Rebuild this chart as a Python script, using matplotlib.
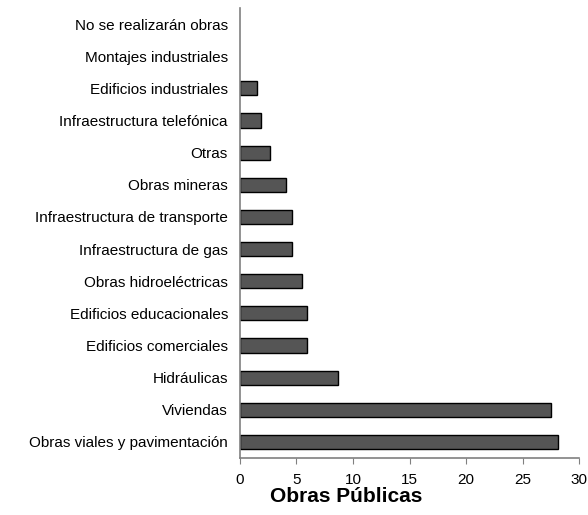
import matplotlib.pyplot as plt

plt.rcParams['font.family'] = ['Liberation Sans', 'DejaVu Sans']

# categories from bottom to top
categorias = [
    'Obras viales y pavimentación',
    'Viviendas',
    'Hidráulicas',
    'Edificios comerciales',
    'Edificios educacionales',
    'Obras hidroeléctricas',
    'Infraestructura de gas',
    'Infraestructura de transporte',
    'Obras mineras',
    'Otras',
    'Infraestructura telefónica',
    'Edificios industriales',
    'Montajes industriales',
    'No se realizarán obras',
]
valores = [28.1, 27.5, 8.7, 5.9, 5.9, 5.5, 4.6, 4.6, 4.1, 2.65, 1.9, 1.5, 0, 0]
xticks = [0, 5, 10, 15, 20, 25, 30]

fig = plt.figure(figsize=(5.88, 5.15), dpi=100)
ax = fig.add_axes([0.408, 0.1107, 0.577, 0.8738])

pos = list(range(len(categorias)))
anchos = [1.0 if v > 0 else 0 for v in valores]
ax.barh(pos, valores, height=0.44, color='#555555', edgecolor='black', linewidth=anchos)

ax.set_xlim(0, 30)
ax.set_ylim(-0.5, len(categorias) - 0.5)
ax.set_xticks(xticks)
ax.set_yticks(pos)
ax.set_yticklabels(categorias, fontsize=11)
ax.tick_params(axis='x', labelsize=11, length=4, color='#808080', direction='out', pad=7)
ax.tick_params(axis='y', length=0, pad=8.6)

for s in ['top', 'right']:
    ax.spines[s].set_visible(False)
for s in ['left', 'bottom']:
    ax.spines[s].set_color('#808080')
    ax.spines[s].set_linewidth(1.2)

fig.text(346 / 588, 1 - 497 / 515, 'Obras Públicas', fontsize=15, fontweight='bold',
         ha='center', va='center')

fig.savefig('out.png', dpi=100)
